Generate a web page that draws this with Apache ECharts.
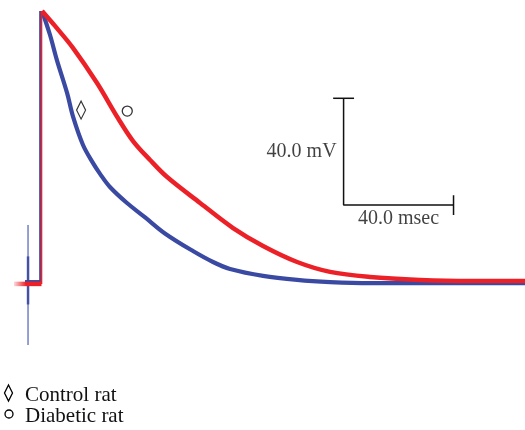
<!DOCTYPE html>
<html lang="en">
<head>
<meta charset="UTF-8">
<title>Action potential traces</title>
<script src="https://cdn.jsdelivr.net/npm/echarts@6/dist/echarts.min.js"></script>
<style>
html, body { margin: 0; padding: 0; background: #fff; }
#chart { width: 525px; height: 430px; }
</style>
</head>
<body>
<div id="chart"></div>
<script>
// time in ms (0 = upstroke), potential in mV above resting level
var controlTime = [0.3, 3.2, 5.7, 9.4, 11.6, 15.2, 18.8, 21.4, 25.0, 31.2, 37.8, 45.0, 55.2, 62.5, 68.7, 80.7, 93.1, 105.1, 119.6, 176.0];
var controlMv   = [101.9, 92.9, 83.5, 71.2, 62.2, 51.7, 45.0, 40.9, 36.0, 30.0, 24.6, 18.6, 12.0, 7.9, 5.3, 2.7, 1.2, 0.4, 0.0, 0.0];
var diabeticTime = [0.3, 5.0, 11.6, 20.3, 27.9, 33.4, 39.6, 45.8, 57.8, 69.8, 80.7, 93.1, 105.1, 119.6, 137.8, 156.0, 176.0];
var diabeticMv   = [101.9, 96.3, 88.0, 74.9, 61.8, 53.2, 46.1, 39.7, 30.0, 20.6, 13.9, 7.9, 4.2, 2.3, 1.2, 0.8, 0.8];

var controlRestTime = [-5.9, -0.3];
var controlRestMv = 0.4;
var diabeticRestTime = [-9.9, 0.1];
var diabeticRestMv = -0.3;
var peakMv = 101.9;
var stimTime = -4.8;
var stimMv = [21.8, -23.2];

// scale bar: 40 mV / 40 ms
var barOrigin = [110, 29.2];
var barMv = 40;
var barMs = 40;
var barLabels = ['40.0 mV', '40.0 msec'];

var seriesNames = ['Control rat', 'Diabetic rat'];
var markPos = [[14.5, 64.8], [31.3, 64.4]];

var BLUE = '#3a49a2';
var RED = '#ec2128';
var SERIF = '"Liberation Serif", "DejaVu Serif", serif';

function zip(t, v) {
    var out = [];
    for (var i = 0; i < t.length; i++) out.push([t[i], v[i]]);
    return out;
}

function trace(data, color, width, z, smooth) {
    return {
        type: 'line', data: data, symbol: 'none', silent: true, z: z,
        smooth: smooth || false,
        lineStyle: { color: color, width: width, cap: 'butt' }
    };
}

var chart = echarts.init(document.getElementById('chart'));

var ox = barOrigin[0], oy = barOrigin[1];
var markStyle = { color: '#fff', borderColor: '#000', borderWidth: 1.3 };
var series = [
    trace([[stimTime, stimMv[0]], [stimTime, stimMv[1]]], 'rgba(70,85,180,0.75)', 1.5, 2),
    trace([[stimTime, 10], [stimTime, -8]], 'rgba(58,73,162,0.9)', 2.5, 2),
    trace([[controlRestTime[0], controlRestMv], [controlRestTime[1], controlRestMv]], BLUE, 4, 2),
    trace([[controlRestTime[1], controlRestMv], [controlRestTime[1], peakMv]], BLUE, 2.5, 2),
    trace(zip(controlTime, controlMv), BLUE, 4.2, 2, 0.35),
    trace([[diabeticRestTime[0], diabeticRestMv], [diabeticRestTime[1], diabeticRestMv]], {
        type: 'linear', x: 0, y: 0, x2: 1, y2: 0,
        colorStops: [{ offset: 0, color: 'rgba(236,33,40,0)' }, { offset: 0.45, color: RED }]
    }, 4.5, 3),
    trace([[diabeticRestTime[1], diabeticRestMv], [diabeticRestTime[1], peakMv]], RED, 1.6, 3),
    trace(zip(diabeticTime, diabeticMv), RED, 4.5, 3, 0.35),
    // scale bar
    trace([[ox, oy + barMv], [ox, oy], [ox + barMs, oy]], '#111', 1.5, 4),
    trace([[ox - 3.8, oy + barMv], [ox + 3.8, oy + barMv]], '#111', 1.5, 4),
    trace([[ox + barMs, oy + 3.7], [ox + barMs, oy - 3.7]], '#111', 1.5, 4),
    {
        type: 'scatter', silent: true, symbolSize: 0, z: 4,
        data: [
            { value: [ox, oy + barMv / 2], label: { position: 'left', distance: 7, formatter: barLabels[0] } },
            { value: [ox + barMs / 2, oy], label: { position: 'bottom', distance: 4, formatter: barLabels[1] } }
        ],
        label: { show: true, color: '#111', fontFamily: SERIF, fontSize: 20 }
    },
    {
        name: seriesNames[0], type: 'scatter', silent: true, z: 5,
        symbol: 'path://M5,0L10,10L5,20L0,10Z', symbolSize: [9, 18],
        itemStyle: markStyle, data: [markPos[0]]
    },
    {
        name: seriesNames[1], type: 'scatter', silent: true, z: 5,
        symbol: 'circle', symbolSize: 10,
        itemStyle: markStyle, data: [markPos[1]]
    }
];

// key below the traces
var keyStroke = { fill: 'none', stroke: '#000', lineWidth: 1.3 };
var graphic = [
    { type: 'polygon', shape: { points: [[8.5, 385], [12.5, 393], [8.5, 401], [4.5, 393]] }, style: keyStroke },
    { type: 'circle', shape: { cx: 9, cy: 414, r: 4 }, style: keyStroke },
    { type: 'text', left: 25, top: 385, style: { text: seriesNames[0], font: '21px ' + SERIF, fill: '#111' } },
    { type: 'text', left: 25, top: 406, style: { text: seriesNames[1], font: '21px ' + SERIF, fill: '#111' } }
];

chart.setOption({
    animation: false,
    grid: { left: 0, right: 0, top: 0, bottom: 0 },
    xAxis: { type: 'value', min: -15, max: 176, show: false },
    yAxis: { type: 'value', min: -55, max: 106, show: false },
    graphic: graphic,
    series: series
});
</script>
</body>
</html>
